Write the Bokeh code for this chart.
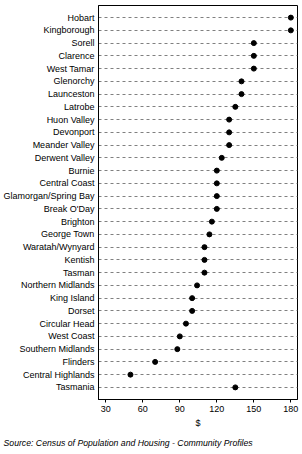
from bokeh.plotting import figure
from bokeh.models import Range1d, FixedTicker, Title, Arrow, ColumnDataSource
from bokeh.embed import file_html
from bokeh.resources import INLINE

regions = ["Hobart", "Kingborough", "Sorell", "Clarence", "West Tamar", "Glenorchy",
           "Launceston", "Latrobe", "Huon Valley", "Devonport", "Meander Valley",
           "Derwent Valley", "Burnie", "Central Coast", "Glamorgan/Spring Bay",
           "Break O'Day", "Brighton", "George Town", "Waratah/Wynyard", "Kentish",
           "Tasman", "Northern Midlands", "King Island", "Dorset", "Circular Head",
           "West Coast", "Southern Midlands", "Flinders", "Central Highlands", "Tasmania"]
values = [180, 180, 150, 150, 150, 140, 140, 135, 130, 130, 130, 124, 120, 120, 120,
          120, 116, 114, 110, 110, 110, 104, 100, 100, 95, 90, 88, 70, 50, 135]
x_ticks = [30, 60, 90, 120, 150, 180]
x_label = "$"
source_text = "Source: Census of Population and Housing - Community Profiles"

FONT = "Liberation Sans, Arial, sans-serif"

n = len(regions)
pos = list(range(n))
PAD = 0.95
FRAME_H = 394
y_start, y_end = n - 1 + PAD, -PAD   # reversed: first region at top

p = figure(width=302, height=454, output_backend="svg", toolbar_location=None,
           y_range=Range1d(y_start, y_end),
           x_range=Range1d(24.1, 185.4),
           min_border_left=98, min_border_right=5, min_border_top=5,
           min_border_bottom=55)

p.background_fill_color = "white"
p.border_fill_color = "white"
p.outline_line_color = "black"
p.outline_line_width = 1

# grid
p.xgrid.grid_line_color = None
p.ygrid.grid_line_color = "#808080"
p.ygrid.grid_line_dash = "3 3"
p.ygrid.grid_line_width = 1

# left axis with region names
ya = p.yaxis[0]
ya.ticker = FixedTicker(ticks=pos)
ya.major_label_overrides = {i: r for i, r in zip(pos, regions)}
ya.major_tick_out = 0
ya.major_tick_in = 0
ya.minor_tick_out = 0
ya.minor_tick_in = 0
ya.axis_line_color = "black"
ya.major_label_standoff = 4
ya.major_label_text_font = FONT
ya.major_label_text_font_size = "9px"
ya.major_label_text_color = "black"

# bottom axis
xa = p.xaxis[0]
xa.ticker = FixedTicker(ticks=x_ticks)
xa.major_tick_out = 3
xa.major_tick_in = 0
xa.minor_tick_out = 0
xa.minor_tick_in = 0
xa.axis_line_color = "black"
xa.major_tick_line_color = "black"
xa.major_label_standoff = 3
xa.major_label_text_font = FONT
xa.major_label_text_font_size = "9px"
xa.major_label_text_color = "black"
xa.axis_label = x_label
xa.axis_label_standoff = 3
xa.axis_label_text_font = FONT
xa.axis_label_text_font_size = "9px"
xa.axis_label_text_font_style = "normal"
xa.axis_label_text_color = "black"

# top tick marks (plain line annotations just above the frame)
units_per_px = (y_start - y_end) / FRAME_H
top_ticks = ColumnDataSource(dict(x=x_ticks, y0=[y_end] * len(x_ticks),
                                  y1=[y_end - 3 * units_per_px] * len(x_ticks)))
p.add_layout(Arrow(start=None, end=None, source=top_ticks, x_start="x", x_end="x",
                   y_start="y0", y_end="y1", line_color="black", line_width=1))

p.scatter(x=values, y=pos, marker="circle", size=5,
          fill_color="black", line_color="black", line_width=1)

p.add_layout(Title(text=source_text, align="left", offset=-95, standoff=11,
                   text_font=FONT, text_font_size="8.7px", text_font_style="italic",
                   text_color="black"), "below")

open("out.html", "w").write(file_html(p, INLINE))
